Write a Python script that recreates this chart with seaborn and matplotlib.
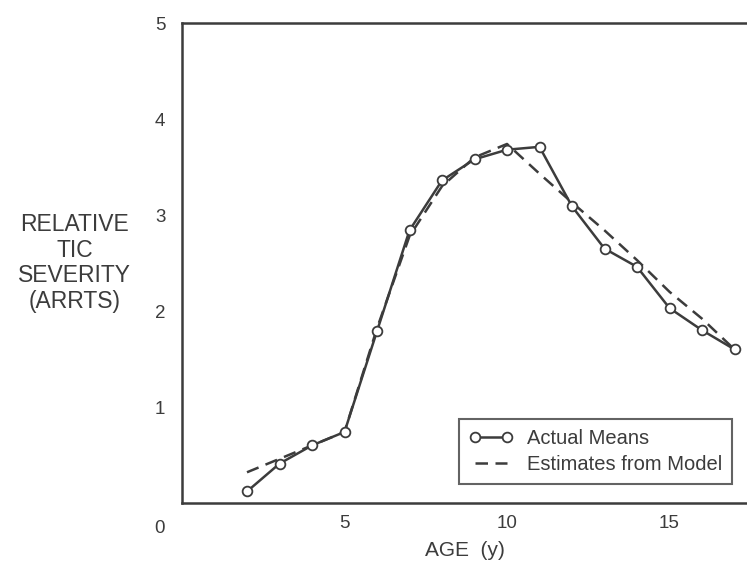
import matplotlib
matplotlib.use("Agg")
import matplotlib.pyplot as plt
import seaborn as sns
import pandas as pd

ages = [2, 3, 4, 5, 6, 7, 8, 9, 10, 11, 12, 13, 14, 15, 16, 17]
actual_means = [0.12, 0.41, 0.60, 0.74, 1.79, 2.84, 3.36, 3.58, 3.68, 3.71, 3.09, 2.65, 2.46, 2.03, 1.80, 1.60]
model_estimates = [0.32, 0.46, 0.60, 0.74, 1.82, 2.78, 3.30, 3.60, 3.74, 3.43, 3.13, 2.84, 2.53, 2.20, 1.92, 1.60]
x_ticks = [5, 10, 15]
y_ticks = [1, 2, 3, 4, 5]

sns.set_theme(style="white")
plt.rcParams['font.family'] = ['Liberation Sans', 'DejaVu Sans']

ink = "#3c3c3c"
fig = plt.figure(figsize=(7.47, 5.77), dpi=100)
ax = fig.add_axes([182/747, 74/577, 565/747, 480/577])

df = pd.DataFrame({"age": ages, "actual": actual_means, "model": model_estimates})

sns.lineplot(data=df, x="age", y="model", ax=ax, color=ink, lw=1.8,
             linestyle=(0, (5, 3)), label="Estimates from Model")
sns.lineplot(data=df, x="age", y="actual", ax=ax, color=ink, lw=1.8,
             marker="o", markersize=7, markerfacecolor="white",
             markeredgecolor=ink, markeredgewidth=1.3, label="Actual Means")

ax.set_xlim(0, 565/32.5)
ax.set_ylim(0, 5)
ax.set_xticks(x_ticks)
ax.set_xticklabels([str(t) for t in x_ticks])
ax.set_yticks(y_ticks)
ax.set_yticklabels([str(t) for t in y_ticks])
ax.tick_params(axis="both", direction="in", length=10, width=1.6, color=ink,
               labelsize=13.5, labelcolor=ink)
ax.tick_params(axis="x", pad=9)
ax.tick_params(axis="y", pad=12)
ax.yaxis.get_major_ticks()[-1].tick1line.set_visible(False)

for side in ["left", "top", "bottom"]:
    ax.spines[side].set_color(ink)
    ax.spines[side].set_linewidth(1.8)
ax.spines["right"].set_visible(False)

ax.set_xlabel("AGE  (y)", fontsize=15, color=ink, labelpad=6)
ax.set_ylabel("")
ax.text(-0.19, 0.50, "RELATIVE\nTIC\nSEVERITY\n(ARRTS)", transform=ax.transAxes,
        ha="center", va="center", fontsize=16.5, color=ink, linespacing=1.15)
ax.text(-0.03, -0.035, "0", transform=ax.transAxes, ha="right", va="top",
        fontsize=13.5, color=ink)

handles, labels = ax.get_legend_handles_labels()
leg = ax.legend(handles[::-1], labels[::-1], loc="lower right",
                bbox_to_anchor=(0.974, 0.04), frameon=True, fancybox=False,
                fontsize=14.5, handlelength=2.2, borderpad=0.5, labelspacing=0.33,
                handletextpad=0.7, borderaxespad=0.0, numpoints=2, edgecolor=ink)
leg.get_frame().set_linewidth(1.5)
for t in leg.get_texts():
    t.set_color(ink)

fig.savefig("out.png", dpi=100)
